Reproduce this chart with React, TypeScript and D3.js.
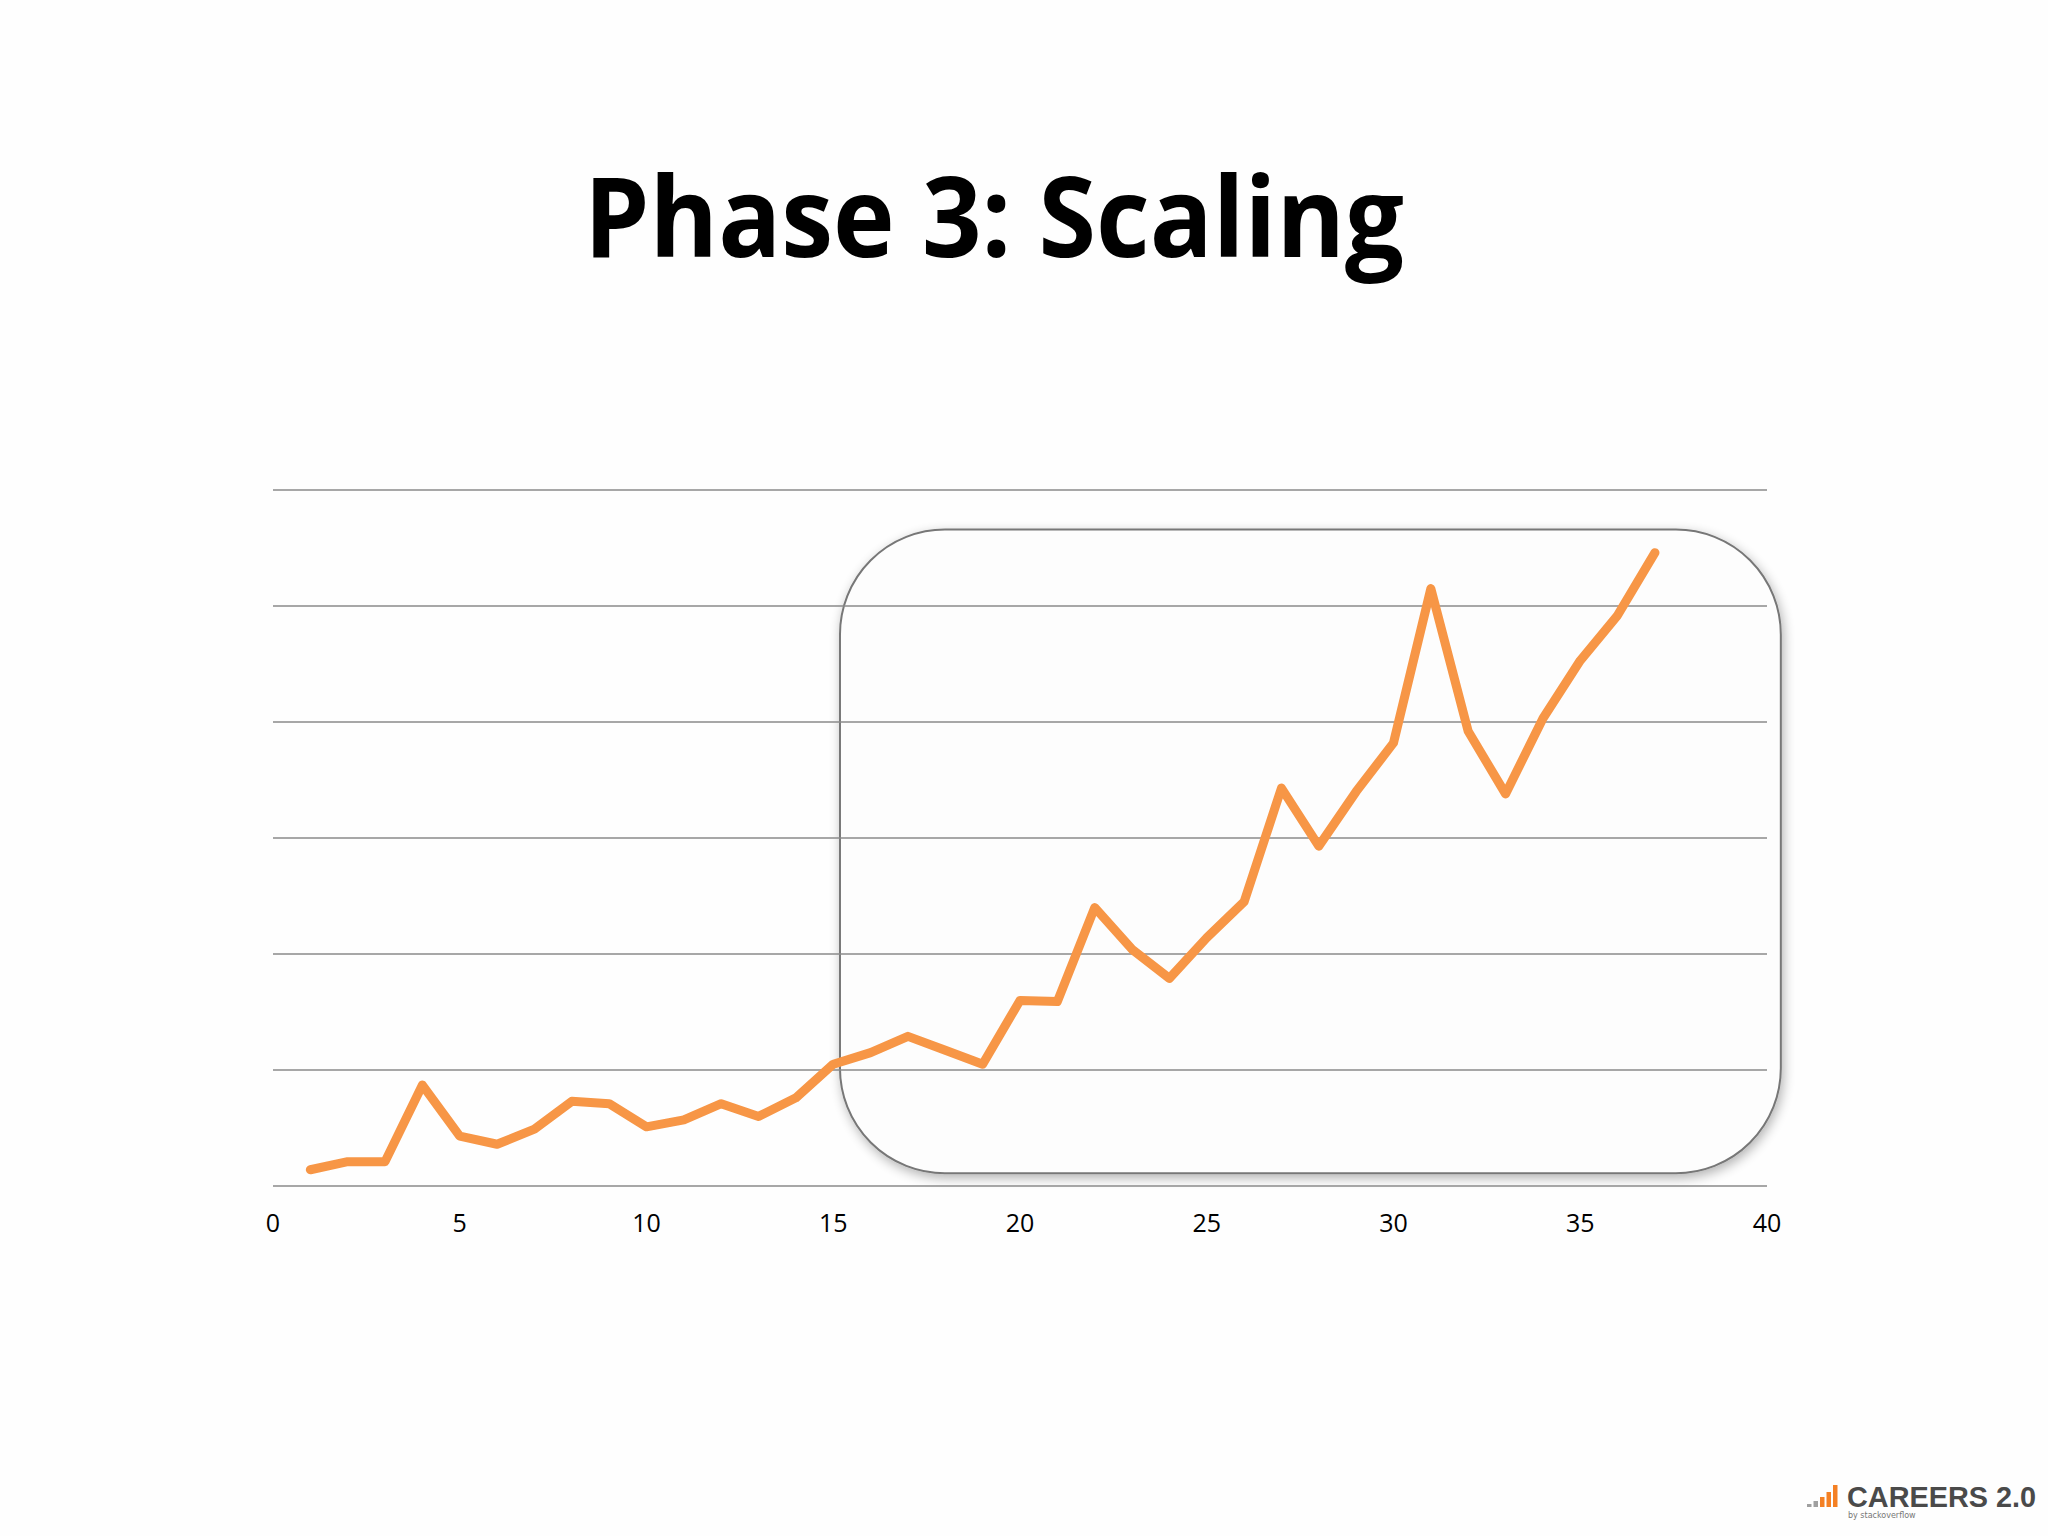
import React from "react";
import * as d3 from "d3";

const titleText = "Phase 3: Scaling";
const xValues = [1,2,3,4,5,6,7,8,9,10,11,12,13,14,15,16,17,18,19,20,21,22,23,24,25,26,27,28,29,30,31,32,33,34,35,36,37];
const yValues = [1.4,2.1,2.1,8.7,4.3,3.6,4.9,7.3,7.1,5.1,5.7,7.1,6.0,7.6,10.5,11.5,12.9,11.7,10.5,16.0,15.9,24.0,20.4,17.9,21.4,24.5,34.3,29.3,34.0,38.2,51.5,39.2,33.8,40.3,45.3,49.2,54.6];
const xTicks = [0,5,10,15,20,25,30,35,40];
const yGrid = [0,10,20,30,40,50,60];
const highlightRange = [15.18, 40.37];
const highlightY = [1.1, 56.6];

export default function App() {
  const x = d3.scaleLinear().domain([0, 40]).range([273, 1767]);
  const y = d3.scaleLinear().domain([0, 60]).range([1186, 490]);
  const line = d3.line<number>().x((_, i) => x(xValues[i])).y((d) => y(d));
  const bx0 = x(highlightRange[0]);
  const bx1 = x(highlightRange[1]);
  const by0 = y(highlightY[1]);
  const by1 = y(highlightY[0]);
  const logoBars = [3, 6, 10, 15, 22];
  return (
    <svg width={2048} height={1536} style={{ position: "absolute", left: 0, top: 0, background: "#fff" }}>
      <defs>
        <filter id="sh" x="-10%" y="-10%" width="120%" height="120%">
          <feGaussianBlur in="SourceAlpha" stdDeviation="6" />
          <feOffset dx="2" dy="4" />
          <feComponentTransfer><feFuncA type="linear" slope="0.3" /></feComponentTransfer>
          <feMerge><feMergeNode /><feMergeNode in="SourceGraphic" /></feMerge>
        </filter>
      </defs>
      <rect width={2048} height={1536} fill="#fefefe" />
      <text x={994} y={257} textAnchor="middle" fontFamily="'Open Sans', 'DejaVu Sans', sans-serif" fontWeight={700} fontSize={112} textLength={820} lengthAdjust="spacingAndGlyphs" fill="#000">{titleText}</text>
      <rect x={bx0} y={by0} width={bx1 - bx0} height={by1 - by0} rx={105} ry={105} fill="#fdfdfd" stroke="#777" strokeWidth={2} filter="url(#sh)" />
      {yGrid.map((g) => (
        <line key={g} x1={x(0)} x2={x(40)} y1={y(g)} y2={y(g)} stroke="#8a8a8a" strokeWidth={1.6} />
      ))}
      {xTicks.map((t) => (
        <text key={t} x={x(t)} y={1232} textAnchor="middle" fontFamily="'Open Sans', sans-serif" fontSize={25} fill="#000">{t}</text>
      ))}
      <path d={line(yValues) || ""} fill="none" stroke="#F79646" strokeWidth={9} strokeLinejoin="round" strokeLinecap="round" />
      {logoBars.map((h, i) => (
        <rect key={i} x={1807 + i * 6.5} y={1507 - h} width={4.5} height={h} fill={i < 2 ? "#a0a0a0" : "#f48024"} />
      ))}
      <text x={1847} y={1507} fontFamily="'Liberation Sans', Arial, sans-serif" fontWeight={700} fontSize={29} textLength={189} lengthAdjust="spacingAndGlyphs" fill="#4a4a4a">CAREERS 2.0</text>
      <text x={1848} y={1518} fontFamily="'DejaVu Sans', sans-serif" fontSize={8} fill="#777">by stackoverflow</text>
    </svg>
  );
}
